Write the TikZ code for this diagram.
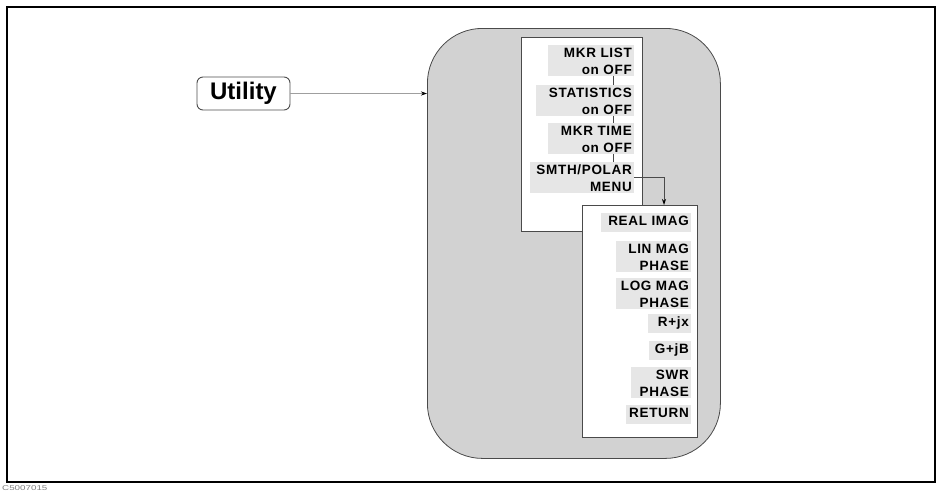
\documentclass[tikz,border=0pt]{standalone}
\usepackage{fontspec}
\setmainfont{Liberation Sans}
\newfontfamily\keyfont{Liberation Sans}[LetterSpace=5]
\usetikzlibrary{arrows.meta}
\definecolor{panelgray}{HTML}{D2D2D2}
\definecolor{keybg}{HTML}{E6E6E6}
\definecolor{edgegray}{HTML}{4A4A4A}
\tikzset{
  softkey/.style={fill=keybg, inner xsep=2pt, inner ysep=1.5pt, text height=10.7pt, align=right,
    anchor=north east, font=\keyfont\bfseries\fontsize{13.5}{17}\selectfont},
  oneline/.style={text depth=5.5pt},
  menubox/.style={draw=edgegray, line width=0.8pt, fill=white, anchor=north west, inner sep=0pt},
  keylink/.style={draw=edgegray, line width=0.6pt},
  flow/.style={draw=gray!75, line width=0.8pt, -{Stealth[length=6pt,width=4pt,black]}}
}
\begin{document}
\begin{tikzpicture}[x=1pt,y=-1pt]
\useasboundingbox (0,0) rectangle (943,491);
% outer frame
\draw[line width=2pt] (7,7) rectangle (935,482);
\node[anchor=west, inner sep=0pt, text=gray, font=\fontsize{7}{7}\selectfont] (code) at (2,488) {\scalebox{1.4}[1]{C5007015}};
% panel
\node[draw=edgegray, line width=0.8pt, fill=panelgray, rounded corners=55pt, anchor=north west,
  minimum width=293pt, minimum height=430pt, inner sep=0pt] (panel) at (427,28) {};
% utility key
\node[draw=gray!60!black, line width=0.9pt, rounded corners=6pt, minimum width=93pt, minimum height=33pt,
  inner sep=0pt, font=\bfseries\fontsize{24}{24}\selectfont] (utility) at (243.5,93.5) {Utility};
\draw[flow] (utility.east) -- (utility.east -| panel.west);
% left menu
\node[menubox, minimum width=121pt, minimum height=194pt] (lbox) at (521,37) {};
\node[softkey, text width=82pt] (mkrlist) at (634,45) {MKR LIST\\on OFF};
\node[softkey, text width=94pt] (stat) at (634,85) {STATISTICS\\on OFF};
\node[softkey, text width=82pt] (mkrtime) at (634,123) {MKR TIME\\on OFF};
\node[softkey, text width=100pt] (smth) at (634,162) {SMTH/POLAR\\MENU};
\draw[keylink] ([xshift=-21pt]mkrlist.south east) -- ([xshift=-21pt]stat.north east);
\draw[keylink] ([xshift=-21pt]stat.south east) -- ([xshift=-21pt]mkrtime.north east);
\draw[keylink] ([xshift=-21pt]mkrtime.south east) -- ([xshift=-21pt]smth.north east);
% right menu
\node[menubox, minimum width=115pt, minimum height=232pt] (rbox) at (582,205) {};
\coordinate (turn) at (664,177);
\draw[flow, draw=edgegray] ([yshift=-15pt]smth.north east) -- (turn) -- (turn |- rbox.north);
\node[softkey, oneline, text width=86pt] (realimag) at (691,213) {REAL IMAG};
\node[softkey, text width=71pt] (linmag) at (691,241) {LIN MAG\\PHASE};
\node[softkey, text width=71pt] (logmag) at (691,278) {LOG MAG\\PHASE};
\node[softkey, oneline, text width=39pt] (rjx) at (691,314) {R+jx};
\node[softkey, oneline, text width=38pt] (gjb) at (691,341) {G+jB};
\node[softkey, text width=56pt] (swr) at (691,367) {SWR\\PHASE};
\node[softkey, oneline, text width=61pt] (return) at (691,405) {RETURN};
\end{tikzpicture}
\end{document}
